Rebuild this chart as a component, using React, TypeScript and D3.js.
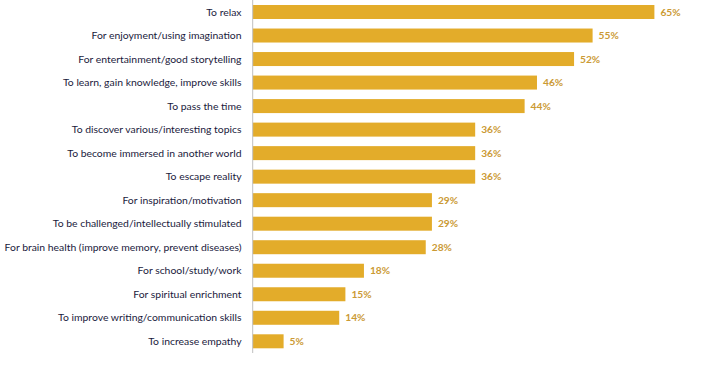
import React from "react";
import * as d3 from "d3";

const categories = [
  "To relax",
  "For enjoyment/using imagination",
  "For entertainment/good storytelling",
  "To learn, gain knowledge, improve skills",
  "To pass the time",
  "To discover various/interesting topics",
  "To become immersed in another world",
  "To escape reality",
  "For inspiration/motivation",
  "To be challenged/intellectually stimulated",
  "For brain health (improve memory, prevent diseases)",
  "For school/study/work",
  "For spiritual enrichment",
  "To improve writing/communication skills",
  "To increase empathy",
];

const values = [65, 55, 52, 46, 44, 36, 36, 36, 29, 29, 28, 18, 15, 14, 5];

const W = 701;
const H = 375;
const axisX = 252.7;

export default function App() {
  const x = d3.scaleLinear().domain([0, 100]).range([axisX, axisX + 618]);
  const y = d3
    .scaleBand<string>()
    .domain(categories)
    .range([0.3, 353])
    .paddingInner(0.405)
    .paddingOuter(0.2);
  const font = "Lato, 'Open Sans', sans-serif";
  return (
    <svg
      width={W}
      height={H}
      style={{ position: "absolute", left: 0, top: 0, background: "#fff" }}
    >
      {categories.map((c, i) => {
        const yy = y(c)!;
        const bw = y.bandwidth();
        const v = values[i];
        return (
          <g key={c}>
            <rect
              x={x(0)}
              y={yy}
              width={x(v) - x(0)}
              height={bw}
              fill="#E3AC2A"
            />
            <text
              x={241.5}
              y={yy + bw / 2}
              dy="0.35em"
              textAnchor="end"
              fontFamily={font}
              fontSize={10.4}
              fill="#1A1A3C"
            >
              {c}
            </text>
            <text
              x={x(v) + 6}
              y={yy + bw / 2}
              dy="0.35em"
              textAnchor="start"
              fontFamily={font}
              fontSize={10.2}
              fontWeight="bold"
              fill="#CB9A34"
            >
              {d3.format(".0f")(v) + "%"}
            </text>
          </g>
        );
      })}
      <line x1={axisX} x2={axisX} y1={0} y2={353} stroke="#BFBFBF" strokeWidth={1} />
    </svg>
  );
}
